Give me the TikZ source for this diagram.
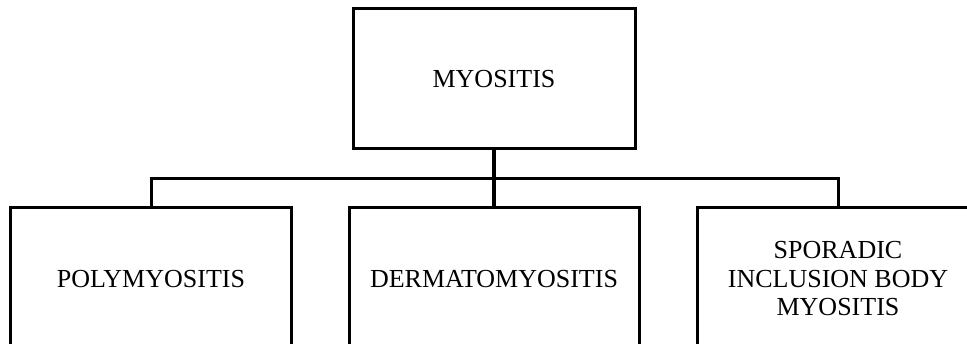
\documentclass[tikz,border=0pt]{standalone}
\usepackage{fontspec}
\setmainfont{Liberation Serif}
\begin{document}
\begin{tikzpicture}[x=1pt,y=-1pt,
  box/.style={draw=black,line width=3pt,rectangle,inner sep=0pt,align=center,
    font=\fontsize{26}{28.5}\selectfont,text=black},
  conn/.style={draw=black,line width=3pt}]
\useasboundingbox (0,0) rectangle (967,344);
\clip (0,0) rectangle (967,344);
\node[box,minimum width=282pt,minimum height=140pt] (top) at (494,79) {MYOSITIS};
\node[box,minimum width=281pt,minimum height=142pt] (left) at (151,279) {POLYMYOSITIS};
\node[box,minimum width=290pt,minimum height=142pt] (mid) at (494,279) {DERMATOMYOSITIS};
\node[box,minimum width=282pt,minimum height=142pt] (right) at (838,279) {SPORADIC\\INCLUSION BODY\\MYOSITIS};
\coordinate (bus) at (494,179);
\draw[conn,line width=4.5pt] (top.south) -- (bus);
\draw[conn] (left.north) |- (bus) -| (right.north);
\draw[conn,line width=3.5pt] (bus) -- (mid.north);
\end{tikzpicture}
\end{document}
